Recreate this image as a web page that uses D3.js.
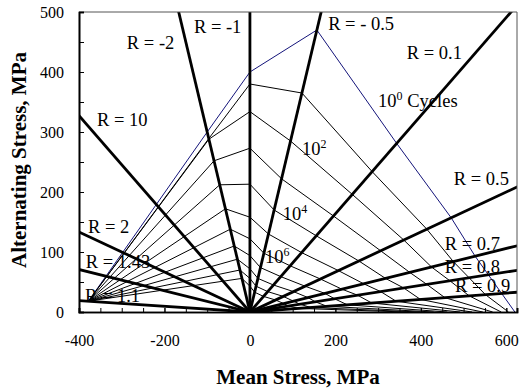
<!DOCTYPE html>
<html><head><meta charset="utf-8">
<script src="https://cdn.jsdelivr.net/npm/d3@7"></script>
<style>
body{margin:0;background:#fff}
svg{display:block}
text{font-family:"Liberation Serif","Times New Roman",serif;fill:#000}
</style>
</head><body>
<svg id="c" width="522" height="391"></svg>
<script>
// ---------- data ----------
const xTickLabels = [-400, -200, 0, 200, 400, 600];
const yTickLabels = [0, 100, 200, 300, 400, 500];
const rRatios = [10, 2, 1.43, 1.1, -2, -1, -0.5, 0.1, 0.5, 0.7, 0.8, 0.9];
const rLabelText = ["R = 10", "R = 2", "R = 1.43", "R = 1.1", "R = -2", "R = -1", "R = - 0.5", "R = 0.1", "R = 0.5", "R = 0.7", "R = 0.8", "R = 0.9"];
const cycleExponents = [0, 1, 2, 3, 4, 5, 6, 7, 8, 9, 10];
// alternating stress (MPa) where each constant-life curve meets each R line
const ampR11  = [18, 18, 18, 18, 18, 18, 18, 18, 18, 18, 18];
const ampRm2  = [300, 289, 288, 252, 212, 172, 138, 110, 88, 70, 56];
const ampRm1  = [400, 380, 334, 273, 213, 158, 122, 94, 72, 56, 43];
const ampRm05 = [470, 365, 285, 222, 170, 130, 98, 74, 56, 43, 33];
const ampR01  = [281, 234, 196, 160, 127, 99, 77, 59, 45, 34, 26];
const ampR05  = [157, 138, 120, 102, 85, 69, 55, 43, 34, 26, 20];
const ampR07  = [93, 84, 75, 66, 56, 47, 38, 31, 24, 18, 14];
const ampR08  = [62, 57, 52, 46, 40, 34, 28, 22, 17, 13, 10];
const ampR09  = [31, 29, 27, 24, 21, 18, 15, 12, 9.5, 7.5, 6];
// mean stress where each curve reaches zero amplitude (R = 1)
const meanR1  = [620, 605, 588, 568, 545, 520, 492, 462, 430, 398, 365];
const curveRs = [1.1, -2, -1, -0.5, 0.1, 0.5, 0.7, 0.8, 0.9];
const curveAmps = [ampR11, ampRm2, ampRm1, ampRm05, ampR01, ampR05, ampR07, ampR08, ampR09];

// ---------- layout ----------
const svg = d3.select("#c");
const L = 79, R = 517, T = 12, B = 312;
const x = d3.scaleLinear().domain([-400, 625]).range([L, R]);
const y = d3.scaleLinear().domain([0, 500]).range([B, T]);

svg.append("defs").append("clipPath").attr("id", "clip")
  .append("rect").attr("x", L).attr("y", T).attr("width", R - L).attr("height", B - T);

const meanFor = (r, amp) => r === -1 ? 0 : amp * (1 + r) / (1 - r);

const g = svg.append("g").attr("clip-path", "url(#clip)");
const line = d3.line().x(d => x(d[0])).y(d => y(d[1]));

// constant-life curves
cycleExponents.forEach((e, i) => {
  const pts = curveRs.map((r, k) => [meanFor(r, curveAmps[k][i]), curveAmps[k][i]]);
  pts.push([meanR1[i], 0]);
  g.append("path").attr("d", line(pts)).attr("fill", "none")
    .attr("stroke", e === 0 ? "#14147a" : "#000").attr("stroke-width", 1);
});

// R lines
rRatios.forEach(r => {
  let end;
  if (r === -1) end = [0, 600];
  else {
    const s = (1 - r) / (1 + r);
    const m = (r > -1 && r < 1) ? 2000 : -2000;
    end = [m, m * s];
  }
  g.append("path").attr("d", line([[0, 0], end])).attr("fill", "none")
    .attr("stroke", "#000").attr("stroke-width", 2.8);
});

// frame
svg.append("path").attr("d", `M${L},${T}H${R}V${B}`).attr("fill", "none").attr("stroke", "#555").attr("stroke-width", 1);

// axes
const fmt = d => String(d);
const xMinor = d3.range(-400, 626, 50);
const yMinor = d3.range(0, 501, 50);
const ax = svg.append("g").attr("transform", `translate(0,${B})`)
  .call(d3.axisBottom(x).tickValues(xMinor).tickSize(-4).tickFormat(""));
const ax2 = svg.append("g").attr("transform", `translate(0,${B})`)
  .call(d3.axisBottom(x).tickValues(xTickLabels).tickSize(-4).tickPadding(23).tickFormat(fmt));
const ay = svg.append("g").attr("transform", `translate(${L},0)`)
  .call(d3.axisLeft(y).tickValues(yMinor).tickSize(-5).tickFormat(""));
const ay2 = svg.append("g").attr("transform", `translate(${L},0)`)
  .call(d3.axisLeft(y).tickValues(yTickLabels).tickSize(-5).tickPadding(15).tickFormat(fmt));
[ax, ax2, ay, ay2].forEach(a => {
  a.selectAll(".domain").attr("stroke", "#000").attr("stroke-width", 1.6);
  a.selectAll(".tick line").attr("stroke", "#000").attr("stroke-width", 1);
  a.selectAll("text").attr("font-size", 16).attr("font-family", "Liberation Serif");
});

// axis titles
svg.append("text").attr("x", 298).attr("y", 384).attr("text-anchor", "middle")
  .attr("font-size", 21).attr("font-weight", "bold").text("Mean Stress, MPa");
svg.append("text").attr("transform", "translate(26,160) rotate(-90)").attr("text-anchor", "middle")
  .attr("font-size", 21).attr("font-weight", "bold").text("Alternating Stress, MPa");

// R labels (data-coordinate anchors: left edge, baseline)
const rLabelPos = [[-358, 310], [-379, 132], [-384, 73], [-386, 17], [-288, 438], [-131, 465],
  [183, 470], [367, 422], [477, 212], [456, 103], [456, 65], [480, 33]];
rLabelText.forEach((t, i) => {
  svg.append("text").attr("x", x(rLabelPos[i][0])).attr("y", y(rLabelPos[i][1]))
    .attr("font-size", 18.5).text(t);
});

// cycle labels
const cycleLabelExp = [0, 2, 4, 6];
const cycleLabelPos = [[300, 342], [122, 262], [77, 153], [35, 82]];
cycleLabelExp.forEach((e, i) => {
  const t = svg.append("text").attr("x", x(cycleLabelPos[i][0])).attr("y", y(cycleLabelPos[i][1]))
    .attr("font-size", 18.5);
  t.append("tspan").text("10");
  t.append("tspan").attr("font-size", 12).attr("dy", -7).text(e);
  if (e === 0) t.append("tspan").attr("dy", 7).text(" Cycles");
});
</script>
</body></html>
